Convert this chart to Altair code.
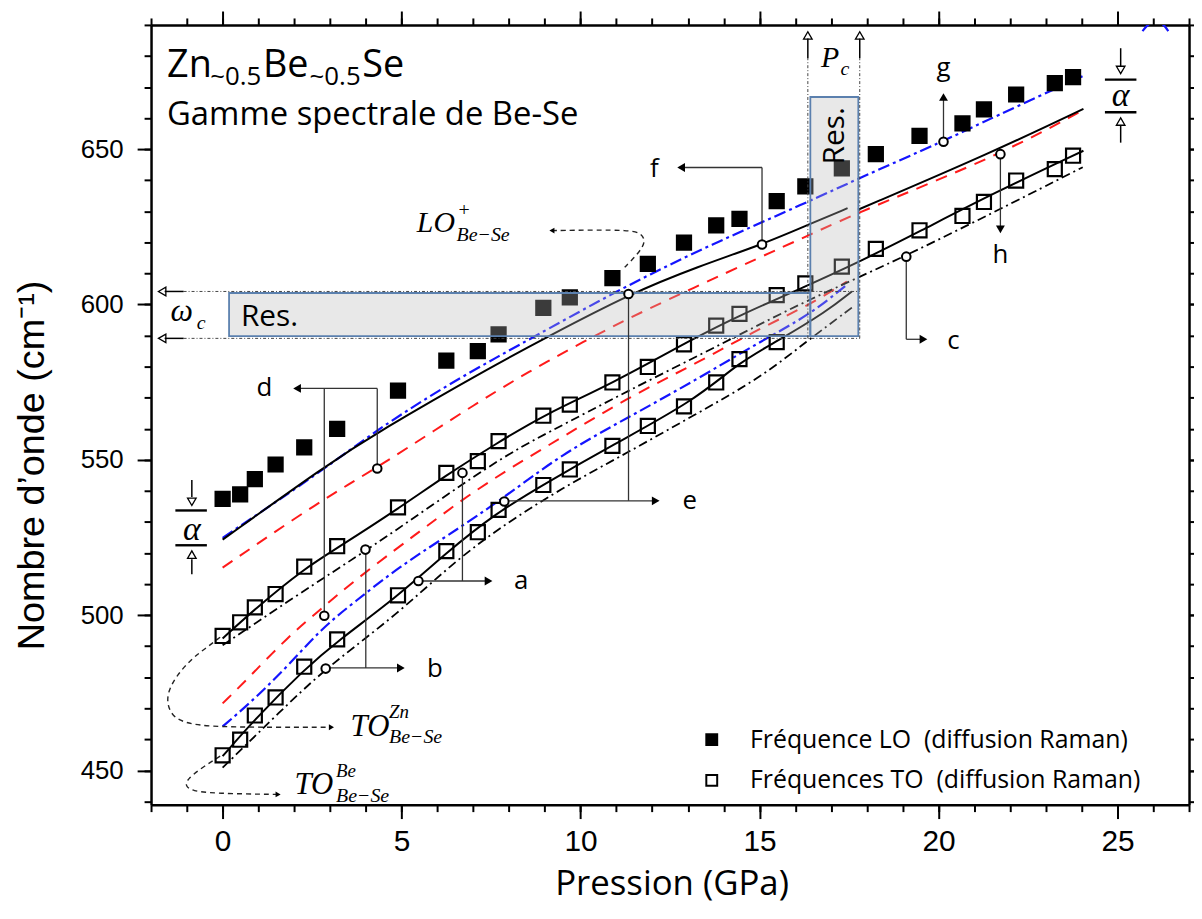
import altair as alt
import pandas as pd

# ---------------- data ----------------
# pressures (GPa) of the Raman spectra
P_RAMAN = [0, 0.49, 0.9, 1.48, 2.28, 3.2, 4.9, 6.25, 7.13, 7.71, 8.96, 9.7, 10.89, 11.88,
           12.89, 13.79, 14.44, 15.48, 16.28, 17.3, 18.25, 19.47, 20.67, 21.27, 22.17, 23.25, 23.76]
LO_RAMAN = [537.4, 538.9, 543.8, 548.5, 554.0, 560.0, 572.3, 581.9, 585.0, 590.4, 598.9, 602.3,
            608.5, 613.1, 619.9, 625.5, 627.6, 633.3, 638.0, 643.8, 648.4, 654.3, 658.3, 662.8,
            667.6, 671.3, 673.2]
TO_UPPER_RAMAN = [493.3, 497.7, 502.5, 506.8, 515.6, 522.2, 534.7, 545.8, 549.6, 556.0, 564.2,
                  567.8, 574.9, 579.9, 587.2, 593.2, 597.0, 603.0, 606.8, 612.2, 617.9, 623.9,
                  628.5, 633.0, 639.9, 643.6, 647.9]
TO_LOWER_RAMAN = [454.9, 459.9, 467.7, 473.5, 483.4, 492.2, 506.4, 520.6, 526.7, 533.9, 541.9,
                  546.9, 554.5, 560.9, 567.2, 574.9, 582.4, 587.9]

# model curves
LO_SOLID_P = [0, 2.84, 4.32, 7.64, 9.03, 11.37, 13.3, 15.07, 16.42, 17.46]
LO_SOLID_W = [524.3, 547.8, 558.9, 580.8, 589.3, 603.4, 612.3, 619.3, 626.0, 631.0]
LO_SOLID2_P = [17.75, 21.5, 24.05]
LO_SOLID2_W = [630.5, 649.0, 663.0]
TOU_SOLID_P = [0, 0.9, 2.28, 3.19, 4.9, 6.24, 7.64, 9.03, 10.88, 13.19, 14.44, 16.28, 17.75, 19.47, 21.5, 24.05]
TOU_SOLID_W = [492.5, 502.0, 515.0, 521.5, 534.2, 545.0, 555.2, 564.8, 574.5, 589.3, 596.5, 605.8, 613.5, 623.5, 635.6, 649.5]
TOL_SOLID_P = [0, 0.9, 2.28, 3.19, 4.89, 6.24, 7.64, 9.03, 10.88, 13.19, 14.44, 15.5, 16.88, 17.58]
TOL_SOLID_W = [454.6, 466.5, 482.5, 491.5, 506.0, 520.0, 532.9, 542.5, 554.7, 569.1, 581.5, 588.2, 597.8, 604.2]
TOU_DD_P = [0, 2.75, 4.22, 7.64, 9.03, 11.34, 14.1, 16.33, 19.1, 24.03]
TOU_DD_W = [490.3, 511.6, 522.2, 549.9, 558.4, 572.3, 588.2, 601.5, 615.4, 644.2]
TOL_DD_P = [0, 0.9, 2.28, 3.19, 4.89, 6.26, 7.64, 9.49, 11.34, 13.19, 15.04, 16.3, 17.58]
TOL_DD_W = [450.9, 461.0, 476.5, 485.5, 500.5, 515.0, 527.5, 541.0, 552.5, 564.5, 576.5, 588.0, 599.0]
LO_RED_P = [0, 2.75, 4.32, 7.18, 9.03, 11.34, 13.19, 14.97, 16.42, 17.83, 21.69, 24.03]
LO_RED_W = [515.3, 537.0, 547.4, 569.0, 581.6, 595.7, 605.5, 615.0, 622.5, 630.0, 648.0, 662.5]
TO_RED_P = [0, 0.71, 1.82, 2.75, 3.67, 4.87, 5.7, 6.81, 8.1, 9.49, 11.34, 13.19, 15.04, 16.42, 17.44]
TO_RED_W = [471.6, 479.6, 493.0, 502.0, 511.0, 521.5, 528.6, 538.2, 547.8, 557.3, 570.1, 580.8, 592.5, 600.0, 607.4]
LO_BLUE_P = [0, 2.75, 4.41, 6.26, 7.64, 8.98, 11.34, 13.59, 16.35, 17.75, 20.14, 21.5, 24.05]
LO_BLUE_W = [524.9, 546.2, 560.5, 573.9, 582.9, 591.4, 606.4, 619.0, 633.0, 640.5, 652.6, 660.1, 673.6]
TO_BLUE_P = [0, 0.71, 1.82, 2.75, 3.67, 4.96, 6.26, 7.83, 9.49, 11.34, 13.19, 15.04, 16.42, 17.44]
TO_BLUE_W = [464.2, 471.1, 483.5, 495.6, 504.1, 515.8, 525.4, 537.5, 552.0, 563.7, 575.5, 588.2, 596.8, 606.4]
BLUE_ARCH_P = [25.7, 25.9, 26.25, 26.42]
BLUE_ARCH_W = [688.0, 691.0, 691.0, 688.0]

# dashed pointer curves to the labels
LOPLUS_P = [9.2, 10.41, 11.3, 11.68, 11.84, 11.58, 11.21]
LOPLUS_W = [623.8, 624.0, 623.9, 623.2, 620.2, 616.0, 611.7]
TOZN_P = [-0.07, -0.49, -0.86, -1.28, -1.53, -1.55, -1.37, -0.86, 0.07, 2.93]
TOZN_W = [492.9, 489.2, 486.0, 480.7, 475.4, 471.1, 466.8, 464.7, 463.9, 463.9]
TOBE_P = [-0.07, -0.58, -1.0, -1.04, -0.86, -0.21, 1.5]
TOBE_W = [454.6, 450.9, 447.1, 445.0, 443.4, 442.6, 442.3]

# marked points (open circles) used by the a..h pointers
CIRCLE_P = [2.84, 3.99, 2.88, 5.47, 6.7, 4.32, 7.87, 11.34, 15.07, 19.1, 20.14, 21.73]
CIRCLE_W = [499.8, 521.1, 482.8, 511.0, 545.8, 547.2, 536.6, 603.4, 619.3, 615.4, 652.4, 648.4]

# resonance zones: (P1, P2, w1, w2)
BOX_P1 = [0.18, 16.42]
BOX_P2 = [16.42, 17.76]
BOX_W1 = [589.8, 589.8]
BOX_W2 = [603.7, 666.8]

LO_LABEL = "Fréquence LO\u00a0 (diffusion Raman)"
TO_LABEL = "Fréquences TO\u00a0 (diffusion Raman)"

X_MAJOR = [0, 5, 10, 15, 20, 25]
X_MINOR = list(range(-2, 28))
Y_MAJOR = [450, 500, 550, 600, 650]
Y_MINOR = list(range(440, 691, 10))

# ---------------- scales ----------------
xs = alt.Scale(domain=[-2, 27], nice=False, zero=False)
ys = alt.Scale(domain=[439, 690], nice=False, zero=False)


def XY(xf="P", yf="w"):
    return dict(x=alt.X(f"{xf}:Q", scale=xs, axis=None), y=alt.Y(f"{yf}:Q", scale=ys, axis=None))


def curves(items):
    rows = []
    for name, ps, ws in items:
        for i, (p, w) in enumerate(zip(ps, ws)):
            rows.append({"curve": name, "i": i, "P": p, "w": w})
    return pd.DataFrame(rows)


def line_layer(items, color, width, dash=None, interp="basis", clip=False, order=False):
    kw = dict(color=color, strokeWidth=width, interpolate=interp, clip=clip)
    if dash:
        kw["strokeDash"] = dash
    enc = XY()
    enc["detail"] = "curve:N"
    if order:
        enc["order"] = alt.Order("i:Q")
    return alt.Chart(curves(items)).mark_line(**kw).encode(**enc)


solid = line_layer([("LO", LO_SOLID_P, LO_SOLID_W), ("LO2", LO_SOLID2_P, LO_SOLID2_W),
                    ("TOU", TOU_SOLID_P, TOU_SOLID_W), ("TOL", TOL_SOLID_P, TOL_SOLID_W)],
                   "black", 2)
dashdot = line_layer([("TOU", TOU_DD_P, TOU_DD_W), ("TOL", TOL_DD_P, TOL_DD_W)],
                     "black", 1.8, [9, 4, 2, 4])
red = line_layer([("LO", LO_RED_P, LO_RED_W), ("TO", TO_RED_P, TO_RED_W)],
                 "#ff1a1a", 2, [12, 9])
blue = line_layer([("LO", LO_BLUE_P, LO_BLUE_W), ("TO", TO_BLUE_P, TO_BLUE_W),
                   ("ARCH", BLUE_ARCH_P, BLUE_ARCH_W)],
                  "#1414ff", 2.2, [12, 4, 3, 4], clip=True)
pointers = line_layer([("LOP", LOPLUS_P, LOPLUS_W), ("TOZN", TOZN_P, TOZN_W), ("TOBE", TOBE_P, TOBE_W)],
                      "#222222", 1.4, [5, 4], interp="basis", order=True)

# Raman squares
sq_rows = []
for p, w in zip(P_RAMAN, LO_RAMAN):
    sq_rows.append({"P": p, "w": w, "serie": LO_LABEL})
for p, w in zip(P_RAMAN, TO_UPPER_RAMAN):
    sq_rows.append({"P": p, "w": w, "serie": TO_LABEL})
for p, w in zip(P_RAMAN, TO_LOWER_RAMAN):
    sq_rows.append({"P": p, "w": w, "serie": TO_LABEL})
sq_df = pd.DataFrame(sq_rows)

squares = alt.Chart(sq_df).mark_point(shape="square", size=200, filled=True, stroke="black",
                                      strokeWidth=2.2, opacity=1).encode(
    **XY(),
    fill=alt.Fill("serie:N", scale=alt.Scale(domain=[LO_LABEL, TO_LABEL], range=["black", "transparent"]),
                  legend=alt.Legend(orient="none", legendX=552, legendY=707, title=None,
                                    symbolType="square", symbolSize=120, symbolStrokeColor="black",
                                    symbolStrokeWidth=2, labelFont="Open Sans", labelFontSize=25,
                                    labelColor="black", labelOffset=26, rowPadding=15, padding=0,
                                    labelLimit=600)),
)

# resonance boxes (translucent overlay)
box_df = pd.DataFrame({"P": BOX_P1, "P2": BOX_P2, "w": BOX_W1, "w2": BOX_W2})
boxes = alt.Chart(box_df).mark_rect(fill="#b6b6b6", fillOpacity=0.32, stroke="#5b80ae",
                                    strokeWidth=1.8).encode(
    x=alt.X("P:Q", scale=xs, axis=None), x2="P2:Q",
    y=alt.Y("w:Q", scale=ys, axis=None), y2="w2:Q")


def rules(segs, color, width, dash=None):
    df = pd.DataFrame(segs, columns=["P", "w", "P2", "w2"])
    kw = dict(color=color, strokeWidth=width)
    if dash:
        kw["strokeDash"] = dash
    return alt.Chart(df).mark_rule(**kw).encode(
        x=alt.X("P:Q", scale=xs, axis=None), x2="P2:Q",
        y=alt.Y("w:Q", scale=ys, axis=None), y2="w2:Q")


frame_dotted = rules([(-1.09, 604.2, 17.8, 604.2), (-1.09, 589.1, 17.8, 589.1),
                      (16.35, 589.1, 16.35, 679.3), (17.8, 589.1, 17.8, 679.3)],
                     "#444444", 1, [3, 2, 1, 2])
shafts = rules([(-1.62, 604.2, -1.09, 604.2), (-1.62, 589.1, -1.09, 589.1),
                (16.35, 679.3, 16.35, 685.6), (17.8, 679.3, 17.8, 685.6),
                (-0.86, 543.5, -0.86, 538.0), (-0.86, 518.0, -0.86, 513.2),
                (25.09, 682.5, 25.09, 676.6), (25.09, 657.8, 25.09, 652.1)],
               "black", 1.5)
bars = rules([(-1.32, 533.7, -0.44, 533.7), (-1.32, 522.5, -0.44, 522.5),
              (24.65, 672.4, 25.53, 672.4), (24.65, 661.9, 25.53, 661.9)], "black", 2.4)
ann = rules([(6.7, 545.8, 6.7, 511.0), (5.47, 511.0, 7.45, 511.0),
             (4.0, 521.1, 4.0, 483.0), (2.88, 483.0, 5.0, 483.0),
             (19.1, 615.4, 19.1, 588.8), (19.1, 588.8, 19.6, 588.8),
             (2.84, 499.8, 2.84, 573.0), (4.32, 547.2, 4.32, 573.0), (4.32, 573.0, 2.05, 573.0),
             (11.34, 603.4, 11.34, 536.8), (7.87, 536.8, 12.1, 536.8),
             (15.07, 619.3, 15.07, 644.1), (15.07, 644.1, 12.8, 644.1),
             (20.14, 652.4, 20.14, 667.0), (21.73, 648.4, 21.73, 624.0)],
            "#333333", 1.3)


def heads(items, filled, size, width=1.3):
    df = pd.DataFrame(items, columns=["P", "w", "shape"])
    return alt.Chart(df).mark_point(filled=filled, size=size, color="black", strokeWidth=width,
                                    opacity=1).encode(
        **XY(), shape=alt.Shape("shape:N", scale=None))


filled_heads = heads([(7.43, 511.0, "triangle-right"), (4.98, 483.0, "triangle-right"),
                      (19.58, 588.8, "triangle-right"), (2.08, 573.0, "triangle-left"),
                      (12.1, 536.8, "triangle-right"), (12.81, 644.1, "triangle-left"),
                      (20.14, 666.8, "triangle-up"), (21.73, 624.2, "triangle-down")], True, 80)
small_heads = heads([(9.2, 623.8, "triangle-left"), (3.04, 463.9, "triangle-right"),
                     (1.55, 442.3, "triangle-right")], True, 35)
open_heads = heads([(-1.69, 604.2, "triangle-left"), (-1.69, 589.1, "triangle-left"),
                    (16.35, 686.6, "triangle-up"), (17.8, 686.6, "triangle-up"),
                    (-0.86, 536.5, "triangle-down"), (-0.86, 519.5, "triangle-up"),
                    (25.09, 675.5, "triangle-down"), (25.09, 658.9, "triangle-up")], False, 75, 1.3)

circles = alt.Chart(pd.DataFrame({"P": CIRCLE_P, "w": CIRCLE_W})).mark_point(
    shape="circle", size=75, filled=True, fill="white", stroke="black", strokeWidth=2, opacity=1
).encode(**XY())


def texts(items, font, style="normal", align="left", baseline="alphabetic"):
    df = pd.DataFrame(items, columns=["P", "w", "text", "size", "angle"])
    return alt.Chart(df).mark_text(font=font, fontStyle=style, align=align, baseline=baseline,
                                   color="black").encode(
        **XY(), text="text:N", size=alt.Size("size:Q", scale=None),
        angle=alt.Angle("angle:Q", scale=None))


sans_left = texts([(-1.553, 673.2, "Zn", 38, 0), (-0.349, 670.6, "~0.5", 26, 0),
                   (1.128, 673.2, "Be", 38, 0), (2.43, 670.6, "~0.5", 26, 0),
                   (3.9, 673.2, "Se", 38, 0),
                   (-1.553, 657.8, "Gamme spectrale de Be-Se", 33, 0),
                   (0.51, 593.0, "Res.", 30, 0)], "Open Sans")
sans_center = texts([(8.34, 508.4, "a", 26, 0), (5.93, 480.2, "b", 26, 0), (20.42, 585.6, "c", 26, 0),
                     (1.17, 570.4, "d", 26, 0), (13.05, 534.1, "e", 26, 0), (12.06, 641.0, "f", 26, 0),
                     (20.14, 673.5, "g", 26, 0), (21.73, 613.5, "h", 26, 0)],
                    "Open Sans", align="center")
res_vertical = texts([(17.12, 654.3, "Res.", 30, 270)], "Open Sans", align="center", baseline="middle")
serif_left = texts([(5.426, 623.2, "LO", 30, 0), (6.535, 620.6, "Be−Se", 20, 0),
                    (3.576, 461.0, "TO", 31, 0), (4.65, 467.0, "Zn", 19, 0), (4.65, 458.9, "Be−Se", 20, 0),
                    (2.007, 442.3, "TO", 31, 0), (3.17, 448.0, "Be", 19, 0), (3.17, 440.0, "Be−Se", 20, 0),
                    (-1.458, 594.6, "ω", 32, 0), (-0.72, 592.0, "c", 20, 0),
                    (16.72, 676.6, "P", 30, 0), (17.26, 674.0, "c", 20, 0)],
                   "Liberation Serif", style="italic")
serif_plus = texts([(6.59, 628.6, "+", 20, 0)], "Liberation Serif")
alphas = texts([(-0.86, 527.5, "α", 34, 0), (25.09, 667.1, "α", 34, 0)],
               "Liberation Serif", style="italic", align="center", baseline="middle")

# ---------------- axes (carried by invisible layers) ----------------
carrier_df = pd.DataFrame({"P": [0.0], "w": [500.0]})
common = dict(grid=False, tickColor="black", tickWidth=2, domainColor="black", domainWidth=2.5)


def carrier(xaxis, yaxis):
    return alt.Chart(carrier_df).mark_point(opacity=0).encode(
        x=alt.X("P:Q", scale=xs, axis=xaxis), y=alt.Y("w:Q", scale=ys, axis=yaxis))


ax_main = carrier(
    alt.Axis(orient="bottom", values=X_MAJOR, tickSize=14, domain=True, labelFont="Liberation Sans",
             labelFontSize=30, labelColor="black", labelPadding=8, labelFlush=False, format="d",
             title="Pression (GPa)", titleFont="Open Sans", titleFontSize=35, titleFontWeight="normal",
             titleColor="black", titleX=524, titleY=90, titleAlign="center", titleBaseline="alphabetic",
             **common),
    alt.Axis(orient="left", values=Y_MAJOR, tickSize=14, domain=True, labelFont="Liberation Sans",
             labelFontSize=26, labelColor="black", labelPadding=14, format="d",
             title="Nombre d’onde (cm⁻¹)", titleFont="Liberation Sans", titleFontSize=38,
             titleFontWeight="normal", titleColor="black", titleAngle=270, titleX=-108, titleY=443,
             titleAlign="center", titleBaseline="alphabetic", **common))
ax_minor = carrier(
    alt.Axis(orient="bottom", values=X_MINOR, tickSize=7, domain=False, labels=False, title=None, **common),
    alt.Axis(orient="left", values=Y_MINOR, tickSize=7, domain=False, labels=False, title=None, **common))
ax_top = carrier(
    alt.Axis(orient="top", values=X_MAJOR, tickSize=14, domain=True, labels=False, title=None, **common),
    alt.Axis(orient="right", values=Y_MAJOR, tickSize=14, domain=True, labels=False, title=None, **common))
ax_top_minor = carrier(
    alt.Axis(orient="top", values=X_MINOR, tickSize=7, domain=False, labels=False, title=None, **common),
    alt.Axis(orient="right", values=Y_MINOR, tickSize=7, domain=False, labels=False, title=None, **common))

chart = alt.layer(
    ax_main, ax_minor, ax_top, ax_top_minor,
    red, blue, dashdot, solid, pointers, squares, boxes,
    frame_dotted, shafts, bars, ann, filled_heads, small_heads, open_heads, circles,
    sans_left, sans_center, res_vertical, serif_left, serif_plus, alphas,
).resolve_axis(x="independent", y="independent").properties(
    width=1045, height=785,
    autosize=alt.AutoSizeParams(type="none"),
    padding={"left": 144, "top": 14, "right": 5, "bottom": 100},
).configure_view(strokeWidth=0)

chart.save("out.html", embed_options={"renderer": "svg", "actions": False})
